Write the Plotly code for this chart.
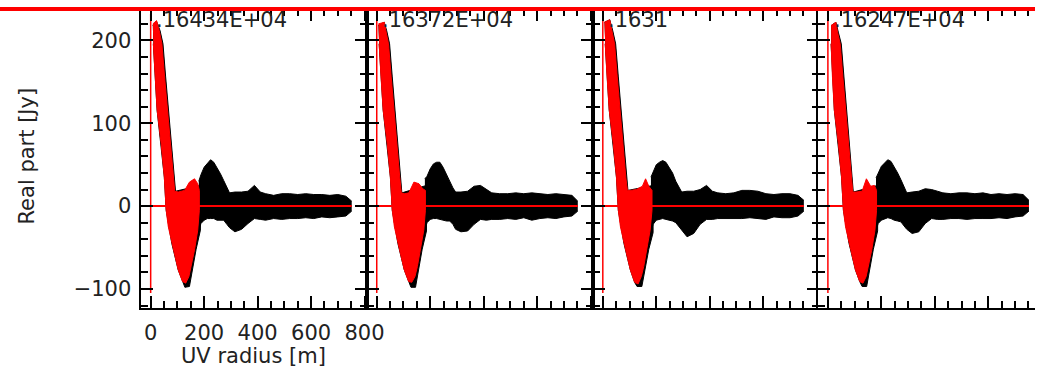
import plotly.graph_objects as go

# ---------------- data ----------------
PANEL_LABELS = [".16434E+04", ".16372E+04", ".1631", ".16247E+04"]
X_TICKS = [0, 200, 400, 600, 800]
Y_TICKS = [-100, 0, 100, 200]

# red (model / inner) cloud outline, per panel  [UV radius m, Real Jy]
RED_X_1 = [8, 22, 32, 42, 52, 63, 75, 85, 90, 103, 127, 145, 164, 176, 182, 182, 176, 164, 152, 143, 131, 119, 103, 92, 79, 66, 58, 51, 39, 24, 17, 10]
RED_Y_1 = [220, 224, 212, 196, 156, 116, 76, 35, 18, 17, 19, 29, 33, 27, 19, -5, -29, -53, -73, -85, -93, -91, -77, -62, -45, -25, -5, 35, 76, 116, 156, 196]
RED_X_2 = [6, 28, 34, 44, 54, 64, 76, 86, 92, 105, 120, 139, 158, 172, 182, 182, 176, 164, 152, 143, 131, 119, 103, 92, 79, 66, 58, 51, 39, 24, 16, 9]
RED_Y_2 = [220, 222, 212, 196, 156, 116, 76, 35, 16, 15, 16, 29, 27, 21, 19, -5, -29, -53, -73, -85, -92, -91, -77, -62, -45, -25, -5, 35, 76, 116, 156, 196]
RED_X_3 = [6, 26, 34, 44, 54, 64, 76, 86, 92, 105, 125, 148, 160, 172, 184, 184, 177, 165, 153, 144, 132, 119, 103, 92, 79, 66, 58, 51, 39, 24, 16, 9]
RED_Y_3 = [222, 225, 212, 196, 156, 116, 76, 35, 19, 19, 20, 24, 33, 24, 19, -5, -29, -53, -73, -85, -94, -92, -77, -62, -45, -25, -5, 35, 76, 116, 156, 196]
RED_X_4 = [12, 30, 36, 46, 56, 66, 78, 88, 93, 106, 128, 144, 160, 174, 182, 182, 176, 164, 152, 143, 131, 119, 103, 92, 79, 66, 58, 51, 39, 24, 17, 12]
RED_Y_4 = [218, 222, 210, 196, 156, 116, 76, 35, 17, 17, 18, 33, 24, 25, 19, -5, -29, -53, -73, -85, -93, -91, -77, -62, -45, -25, -5, 35, 76, 116, 156, 196]

# black (data) cloud under the red one, per panel
BLK_X_1 = [8, 22, 35, 46, 56, 66, 78, 88, 93, 186, 186, 170, 160, 152, 145, 128, 119, 103, 79, 58, 51, 24, 10]
BLK_Y_1 = [218, 223, 212, 196, 156, 116, 76, 35, 18, 25, -29, -52, -70, -85, -97, -98, -91, -77, -45, -5, 35, 116, 196]
BLK_X_2 = [6, 28, 37, 48, 58, 68, 80, 89, 94, 186, 186, 170, 160, 152, 145, 128, 119, 103, 79, 58, 51, 24, 9]
BLK_Y_2 = [218, 222, 212, 196, 156, 116, 76, 35, 16, 25, -30, -52, -70, -86, -98, -98, -91, -77, -45, -5, 35, 116, 196]
BLK_X_3 = [6, 26, 37, 48, 58, 68, 80, 89, 94, 188, 188, 172, 162, 154, 146, 128, 119, 103, 79, 58, 51, 24, 9]
BLK_Y_3 = [222, 225, 212, 196, 156, 116, 76, 35, 19, 25, -32, -52, -70, -86, -97, -97, -92, -77, -45, -5, 35, 116, 196]
BLK_X_4 = [12, 30, 39, 50, 60, 70, 81, 90, 95, 186, 186, 170, 160, 152, 145, 128, 119, 103, 79, 58, 51, 24, 12]
BLK_Y_4 = [218, 222, 210, 196, 156, 116, 76, 35, 17, 25, -30, -52, -70, -85, -97, -97, -91, -77, -45, -5, 35, 116, 196]

# black tail (UV radius > ~180 m): upper / lower envelope
TAIL_X = [180, 188, 200, 212, 224, 236, 248, 261, 273, 285, 295, 315, 340, 364, 388, 410, 430, 460, 490, 520, 550, 580, 610, 640, 670, 700, 730, 752]
TAIL_UP_1 = [30, 38, 47, 51, 56, 53, 47, 39, 31, 23, 16, 17, 17, 18, 25, 17, 15, 13, 15, 15, 14, 15, 14, 14, 13, 14, 12, 6]
TAIL_LO_1 = [-29, -21, -17, -15, -15, -15, -17, -17, -17, -22, -26, -31, -28, -21, -15, -16, -17, -15, -16, -15, -15, -14, -15, -13, -14, -13, -12, -6]
TAIL_UP_2 = [33, 36, 45, 51, 53, 53, 47, 38, 30, 22, 17, 17, 18, 24, 25, 20, 16, 15, 15, 16, 15, 16, 15, 14, 15, 14, 13, 6]
TAIL_LO_2 = [-30, -20, -16, -15, -15, -16, -17, -18, -18, -22, -28, -31, -30, -22, -16, -17, -16, -16, -15, -16, -14, -17, -15, -14, -15, -13, -12, -6]
TAIL_UP_3 = [35, 42, 50, 53, 55, 53, 47, 40, 30, 22, 17, 18, 18, 20, 25, 18, 16, 15, 16, 19, 19, 18, 15, 14, 15, 15, 13, 7]
TAIL_LO_3 = [-32, -22, -17, -16, -15, -16, -17, -18, -20, -25, -30, -37, -33, -22, -16, -16, -15, -15, -15, -15, -14, -15, -16, -13, -14, -14, -12, -6]
TAIL_UP_4 = [34, 40, 48, 52, 56, 54, 48, 40, 32, 22, 16, 17, 18, 21, 20, 18, 16, 15, 16, 16, 15, 16, 14, 15, 14, 15, 14, 7]
TAIL_LO_4 = [-30, -21, -17, -15, -14, -15, -17, -18, -19, -24, -28, -33, -31, -21, -15, -16, -16, -15, -15, -16, -15, -15, -15, -14, -15, -13, -12, -6]

# red reference lines
ZERO_LINE_X = [0, 752]
ZERO_LINE_Y = [0, 0]
VLINE_X = [0, 0]
VLINE_Y = [-105, 232]

RED = [(RED_X_1, RED_Y_1), (RED_X_2, RED_Y_2), (RED_X_3, RED_Y_3), (RED_X_4, RED_Y_4)]
BLK = [(BLK_X_1, BLK_Y_1), (BLK_X_2, BLK_Y_2), (BLK_X_3, BLK_Y_3), (BLK_X_4, BLK_Y_4)]
TAIL = [(TAIL_UP_1, TAIL_LO_1), (TAIL_UP_2, TAIL_LO_2), (TAIL_UP_3, TAIL_LO_3), (TAIL_UP_4, TAIL_LO_4)]

# ---------------- layout geometry (pixels of the 1053x370 page) ----------------
W, H = 1053, 370
PANEL_LEFT = [143, 373, 603, 832]
PANEL_W = 230
PX_PER_UNIT = 0.272
X0_OFF = 10.3
TOP_PX, BOT_PX = 9, 308
Y_RANGE = [-123, 238]

FONT = "DejaVu Sans"
TXT = "#222222"
FS = 21

fig = go.Figure()

for i in range(4):
    n = i + 1
    xa = "x" if n == 1 else f"x{n}"
    ya = "y" if n == 1 else f"y{n}"
    bx, by = BLK[i]
    fig.add_trace(go.Scatter(x=bx, y=by, xaxis=xa, yaxis=ya, mode="lines", fill="toself",
                             fillcolor="#000000", line=dict(color="#000000", width=1),
                             hoverinfo="skip", showlegend=False))
    up, lo = TAIL[i]
    fig.add_trace(go.Scatter(x=TAIL_X, y=up, xaxis=xa, yaxis=ya, mode="lines",
                             line=dict(color="#000000", width=1), hoverinfo="skip", showlegend=False))
    fig.add_trace(go.Scatter(x=TAIL_X, y=lo, xaxis=xa, yaxis=ya, mode="lines", fill="tonexty",
                             fillcolor="#000000", line=dict(color="#000000", width=1),
                             hoverinfo="skip", showlegend=False))
    rx, ry = RED[i]
    fig.add_trace(go.Scatter(x=rx, y=ry, xaxis=xa, yaxis=ya, mode="lines", fill="toself",
                             fillcolor="#ff0000", line=dict(color="#ff0000", width=1),
                             hoverinfo="skip", showlegend=False))
    fig.add_trace(go.Scatter(x=ZERO_LINE_X, y=ZERO_LINE_Y, xaxis=xa, yaxis=ya, mode="lines",
                             line=dict(color="#ff0000", width=2), hoverinfo="skip", showlegend=False))
    fig.add_trace(go.Scatter(x=VLINE_X, y=VLINE_Y, xaxis=xa, yaxis=ya, mode="lines",
                             line=dict(color="#ff0000", width=1.5), hoverinfo="skip", showlegend=False))

    left = PANEL_LEFT[i]
    right = min(left + PANEL_W, W)
    xmin = -X0_OFF / PX_PER_UNIT
    xmax = (right - left - X0_OFF) / PX_PER_UNIT
    show = (n == 1)
    xaxis = dict(domain=[left / W, right / W], range=[xmin, xmax], anchor=ya,
                 showline=True, linewidth=2, linecolor="#000", mirror="allticks",
                 ticks="inside", ticklen=12, tickwidth=1.5, tickcolor="#000",
                 tickmode="array", tickvals=X_TICKS, ticktext=[str(v) for v in X_TICKS],
                 minor=dict(ticks="inside", ticklen=7, tickwidth=1.5, tickcolor="#000",
                            dtick=50, tick0=0, showgrid=False),
                 showgrid=False, zeroline=False, showticklabels=show,
                 tickfont=dict(family=FONT, size=FS, color=TXT), ticklabelstandoff=5)
    yaxis = dict(domain=[1 - BOT_PX / H, 1 - TOP_PX / H], range=Y_RANGE, anchor=xa,
                 showline=True, linewidth=2, linecolor="#000",
                 mirror=("allticks" if n < 4 else False),
                 ticks="inside", ticklen=12, tickwidth=1.5, tickcolor="#000",
                 tickmode="array", tickvals=Y_TICKS,
                 ticktext=[("\u2212" + str(-v)) if v < 0 else str(v) for v in Y_TICKS],
                 minor=dict(ticks="inside", ticklen=7, tickwidth=1.5, tickcolor="#000",
                            dtick=20, tick0=0, showgrid=False),
                 showgrid=False, zeroline=False, showticklabels=show,
                 tickfont=dict(family=FONT, size=FS, color=TXT), ticklabelstandoff=3)
    fig.layout["xaxis" if n == 1 else f"xaxis{n}"] = xaxis
    fig.layout["yaxis" if n == 1 else f"yaxis{n}"] = yaxis

    fig.add_annotation(text=PANEL_LABELS[i], x=(left + 14) / W, y=1 - 20 / H,
                       xref="paper", yref="paper", xanchor="left", yanchor="middle",
                       showarrow=False, font=dict(family=FONT, size=FS, color=TXT))

fig.add_annotation(text="Real part [Jy]", x=27 / W, y=1 - 156 / H, xref="paper", yref="paper",
                   textangle=-90, showarrow=False, xanchor="center", yanchor="middle",
                   font=dict(family=FONT, size=FS, color=TXT))
fig.add_annotation(text="UV radius [m]", x=258 / W, y=1 - 356 / H, xref="paper", yref="paper",
                   showarrow=False, xanchor="center", yanchor="middle",
                   font=dict(family=FONT, size=FS, color=TXT))

fig.add_shape(type="line", xref="paper", yref="paper", x0=0, x1=1, y0=1 - 9 / H, y1=1 - 9 / H,
              line=dict(color="#ff0000", width=4), layer="above")

fig.update_layout(width=W, height=H, margin=dict(l=0, r=0, t=0, b=0),
                  paper_bgcolor="white", plot_bgcolor="white", showlegend=False)

fig.write_html("out.html")
